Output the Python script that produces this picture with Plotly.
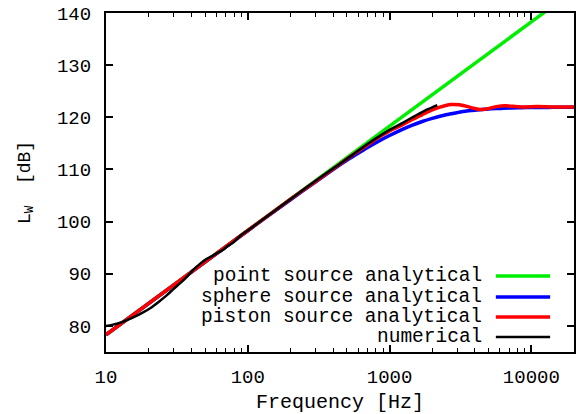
import plotly.graph_objects as go

# ---- data ----
point_freq = [10, 100, 1000, 10000, 20000]
point_lw = [78.3, 98.3, 118.3, 138.3, 144.3]

sphere_freq = [10, 100, 200, 300, 400, 500, 600, 700, 850, 1000, 1200, 1450, 1700,
               2000, 2500, 3000, 3500, 4300, 5000, 6000, 7000, 8500, 10000, 13000,
               16000, 20000]
sphere_lw = [78.3, 98.25, 104.2, 107.6, 110.0, 111.75, 113.1, 114.2, 115.5, 116.5,
             117.55, 118.5, 119.2, 119.8, 120.5, 120.9, 121.2, 121.45, 121.6, 121.7,
             121.8, 121.85, 121.9, 121.9, 121.95, 121.95]

piston_freq = [10, 100, 200, 300, 400, 500, 600, 700, 850, 1000, 1200, 1450, 1700,
               2000, 2300, 2700, 3100, 3500, 3900, 4300, 4700, 5200, 5800, 6500,
               7500, 9000, 11000, 14000, 20000]
piston_lw = [78.3, 98.3, 104.3, 107.7, 110.1, 112.0, 113.5, 114.75, 116.25, 117.4,
             118.4, 119.6, 120.5, 121.4, 122.0, 122.45, 122.4, 122.1, 121.75, 121.5,
             121.55, 121.8, 122.1, 122.2, 122.1, 122.0, 122.05, 122.0, 122.0]

num_freq = [10, 11, 12.6, 14, 15.7, 18, 20.5, 23.5, 26.9, 30, 33.4, 37.2, 41, 46, 51,
            57, 61, 64, 67, 72, 79, 88, 100, 115, 150, 200, 300, 400, 550, 700, 850,
            1000, 1230, 1450, 1620, 1850, 2170]
num_lw = [80.0, 80.2, 80.6, 81.1, 81.7, 82.5, 83.4, 84.6, 85.9, 87.1, 88.2, 89.4,
          90.7, 91.9, 92.8, 93.5, 94.0, 94.3, 94.6, 95.3, 96.0, 97.2, 98.3, 99.5,
          101.8, 104.3, 107.8, 110.2, 112.8, 114.9, 116.4, 117.6, 118.9, 120.0,
          120.7, 121.5, 122.35]

series_names = ["point source analytical", "sphere source analytical",
                "piston source analytical", "numerical"]
series_colors = ["#00ee00", "#0000ff", "#ff0000", "#000000"]
series_widths = [3.5, 3.5, 3.5, 2.5]

x_ticks = [10, 100, 1000, 10000]
y_ticks = [80, 90, 100, 110, 120, 130, 140]

FONT = "Liberation Mono, Courier New, monospace"

fig = go.Figure()
data = [(point_freq, point_lw), (sphere_freq, sphere_lw),
        (piston_freq, piston_lw), (num_freq, num_lw)]
for (fx, fy), name, col, w in zip(data, series_names, series_colors, series_widths):
    fig.add_trace(go.Scatter(x=fx, y=fy, mode="lines", name=name,
                             line=dict(color=col, width=w, shape="spline", smoothing=0.6),
                             showlegend=False))

# gnuplot-style key: right-aligned text followed by a line sample
key_y = [0.2244, 0.1624, 0.1033, 0.0443]
for name, col, w, ky in zip(series_names, series_colors, series_widths, key_y):
    fig.add_annotation(x=0.805, y=ky, xref="paper", yref="paper", text=name,
                       showarrow=False, xanchor="right", yanchor="middle",
                       height=19, borderpad=0,
                       font=dict(family=FONT, size=19.5, color="#000"))
    fig.add_shape(type="line", xref="paper", yref="paper", x0=0.833, x1=0.949,
                  y0=ky, y1=ky, line=dict(color=col, width=w))

fig.update_layout(
    width=579, height=414,
    margin=dict(l=106, r=5, t=13, b=62),
    paper_bgcolor="white", plot_bgcolor="white",
    font=dict(family=FONT, size=19, color="#000"),
)
fig.update_xaxes(type="log", range=[1, 4.301], tickvals=x_ticks,
                 ticktext=[str(v) for v in x_ticks], automargin=False,
                 ticks="inside", ticklen=7, tickwidth=1.5, tickcolor="#000",
                 minor=dict(ticks="inside", ticklen=4, tickwidth=1, tickcolor="#000",
                            dtick="D1", showgrid=False),
                 showline=True, linewidth=2, linecolor="#000", mirror="allticks",
                 showgrid=False, zeroline=False, ticklabelstandoff=6,
                 title=dict(text="Frequency [Hz]", font=dict(size=20), standoff=6))
fig.update_yaxes(range=[75, 140], tickvals=y_ticks, automargin=False,
                 ticks="inside", ticklen=7, tickwidth=1.5, tickcolor="#000",
                 showline=True, linewidth=2, linecolor="#000", mirror="allticks",
                 showgrid=False, zeroline=False, ticklabelstandoff=9,
                 title=dict(text="L<sub>W</sub>  [dB]", font=dict(size=18), standoff=22))

fig.write_html("out.html", config={"displayModeBar": False},
               post_script="document.body.style.margin='0';document.body.style.overflow='hidden';")
